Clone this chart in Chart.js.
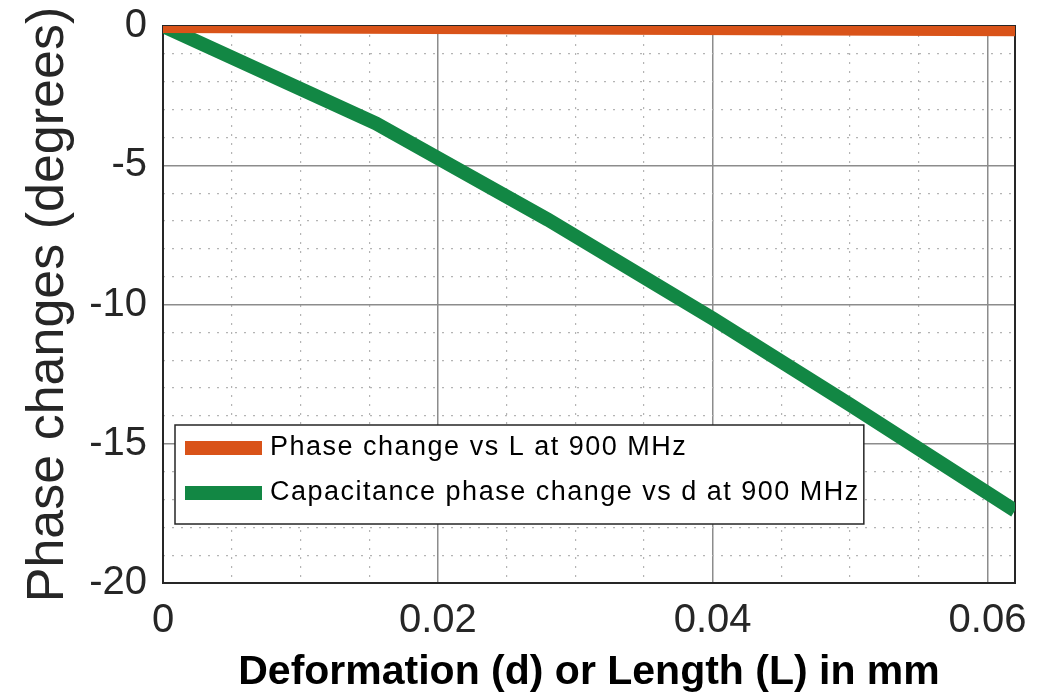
<!DOCTYPE html>
<html>
<head>
<meta charset="utf-8">
<script src="https://cdn.jsdelivr.net/npm/chart.js@4"></script>
<style>
  body { margin: 0; background: #fff; }
  #wrap { width: 1046px; height: 696px; position: relative; }
</style>
</head>
<body>
<div id="wrap"><canvas id="phase"></canvas></div>
<script>
// data
var lengthMm = [0, 0.062];
var phaseVsL = [0, -0.12];

var deformMm = [0, 0.0155, 0.028, 0.04, 0.05, 0.062];
var phaseVsD = [0, -3.5, -6.95, -10.5, -13.6, -17.4];

var seriesNames = ['Phase change vs L at 900 MHz', 'Capacitance phase change vs d at 900 MHz'];
var xTicks = [0, 0.02, 0.04, 0.06];
var xMinorStep = 0.005;
var yTicks = [-20, -15, -10, -5, 0];
var yMinorStep = 1;

function pairs(xs, ys) {
    return xs.map(function(x, i) { return { x: x, y: ys[i] }; });
}

function isMajor(v, list) {
    return list.some(function(m) { return Math.abs(m - v) < 1e-9; });
}

// minor grid positions between min and max
function minorTicks(min, max, step) {
    var out = [];
    for (var i = 0; min + i * step <= max + 1e-12; i++) {
        out.push({ value: +(min + i * step).toFixed(6) });
    }
    return out;
}

var FONT = "'Liberation Sans', Arial, sans-serif";

// box round the plot, MATLAB style
var framePlugin = {
    id: 'frame',
    beforeDatasetsDraw: function(chart) {
        var a = chart.chartArea, ctx = chart.ctx;
        ctx.save();
        ctx.strokeStyle = '#262626';
        ctx.lineWidth = 2;
        ctx.strokeRect(a.left, a.top, a.right - a.left, a.bottom - a.top);
        ctx.restore();
    }
};

// legend box inside the plot, lower left
var boxLegend = {
    id: 'boxLegend',
    afterDatasetsDraw: function(chart) {
        var a = chart.chartArea, ctx = chart.ctx;
        var sets = chart.data.datasets;
        ctx.save();
        ctx.font = '27px ' + FONT;
        ctx.letterSpacing = '1.5px';
        var textW = 0;
        sets.forEach(function(ds) { textW = Math.max(textW, ctx.measureText(ds.label).width); });
        var left = a.left + 12, top = a.bottom - 158;
        var w = 95 + textW + 4, h = 99;
        ctx.fillStyle = '#fff';
        ctx.fillRect(left, top, w, h);
        ctx.strokeStyle = '#262626';
        ctx.lineWidth = 1.5;
        ctx.strokeRect(left, top, w, h);
        sets.forEach(function(ds, i) {
            var cy = top + 23 + i * 45;
            ctx.fillStyle = ds.borderColor;
            ctx.fillRect(left + 10, cy - 7, 77, 14);
            ctx.fillStyle = '#000';
            ctx.textBaseline = 'middle';
            ctx.fillText(ds.label, left + 95, cy);
        });
        ctx.restore();
    }
};

var ctx = document.getElementById('phase').getContext('2d');
var chart = new Chart(ctx, {
    type: 'line',
    data: {
        datasets: [{
            label: seriesNames[0],
            data: pairs(lengthMm, phaseVsL),
            borderColor: '#D95319',
            borderWidth: 14,
            pointRadius: 0,
            tension: 0
        }, {
            label: seriesNames[1],
            data: pairs(deformMm, phaseVsD),
            borderColor: '#128744',
            borderWidth: 14,
            pointRadius: 0,
            tension: 0
        }]
    },
    options: {
        responsive: true,
        maintainAspectRatio: false,
        animation: false,
        layout: { padding: { top: 26, right: 31, left: 0, bottom: 0 } },
        plugins: {
            legend: { display: false },
            tooltip: { enabled: false }
        },
        scales: {
            x: {
                type: 'linear',
                position: 'bottom',
                min: 0,
                max: 0.062,
                afterBuildTicks: function(s) {
                    s.ticks = xTicks.map(function(v) { return { value: v }; });
                },
                afterFit: function(s) { s.height = 113; },
                ticks: {
                    padding: 14,
                    color: '#262626',
                    font: { family: FONT, size: 40 },
                    callback: function(v) { return String(+v.toFixed(2)); }
                },
                grid: { color: '#8c8c8c', lineWidth: 1.5, drawTicks: false },
                border: { color: '#262626', width: 2 },
                title: {
                    display: true,
                    text: 'Deformation (d) or Length (L) in mm',
                    color: '#000',
                    font: { family: FONT, size: 41, weight: 'bold', lineHeight: 1 },
                    padding: { top: 0, bottom: 3 }
                }
            },
            xMinor: {
                type: 'linear',
                position: 'bottom',
                min: 0,
                max: 0.062,
                afterBuildTicks: function(s) { s.ticks = minorTicks(0, 0.062, xMinorStep); },
                afterFit: function(s) { s.height = 0; },
                ticks: { display: false },
                grid: {
                    drawTicks: false,
                    lineWidth: 1.2,
                    color: function(c) {
                        return c.tick && isMajor(c.tick.value, xTicks) ? 'rgba(0,0,0,0)' : '#b4b4b4';
                    }
                },
                border: { display: false, dash: [2, 7] }
            },
            y: {
                type: 'linear',
                position: 'left',
                min: -20,
                max: 0,
                afterBuildTicks: function(s) {
                    s.ticks = yTicks.map(function(v) { return { value: v }; });
                },
                afterFit: function(s) {
                    s.width = 163;
                    // let the layout padding decide the top edge
                    s.paddingTop = 0;
                    s.paddingBottom = 0;
                },
                ticks: {
                    padding: 16,
                    color: '#262626',
                    font: { family: FONT, size: 40 }
                },
                grid: { color: '#8c8c8c', lineWidth: 1.5, drawTicks: false },
                border: { color: '#262626', width: 2 },
                title: {
                    display: true,
                    text: 'Phase changes (degrees)',
                    color: '#262626',
                    font: { family: FONT, size: 52, lineHeight: 1.2 },
                    padding: { top: 17, bottom: 0 }
                }
            },
            yMinor: {
                type: 'linear',
                position: 'left',
                min: -20,
                max: 0,
                afterBuildTicks: function(s) { s.ticks = minorTicks(-20, 0, yMinorStep); },
                afterFit: function(s) { s.width = 0; s.paddingTop = 0; s.paddingBottom = 0; },
                ticks: { display: false },
                grid: {
                    drawTicks: false,
                    lineWidth: 1.2,
                    color: function(c) {
                        return c.tick && isMajor(c.tick.value, yTicks) ? 'rgba(0,0,0,0)' : '#b4b4b4';
                    }
                },
                border: { display: false, dash: [2, 7] }
            }
        }
    },
    plugins: [framePlugin, boxLegend]
});
</script>
</body>
</html>
